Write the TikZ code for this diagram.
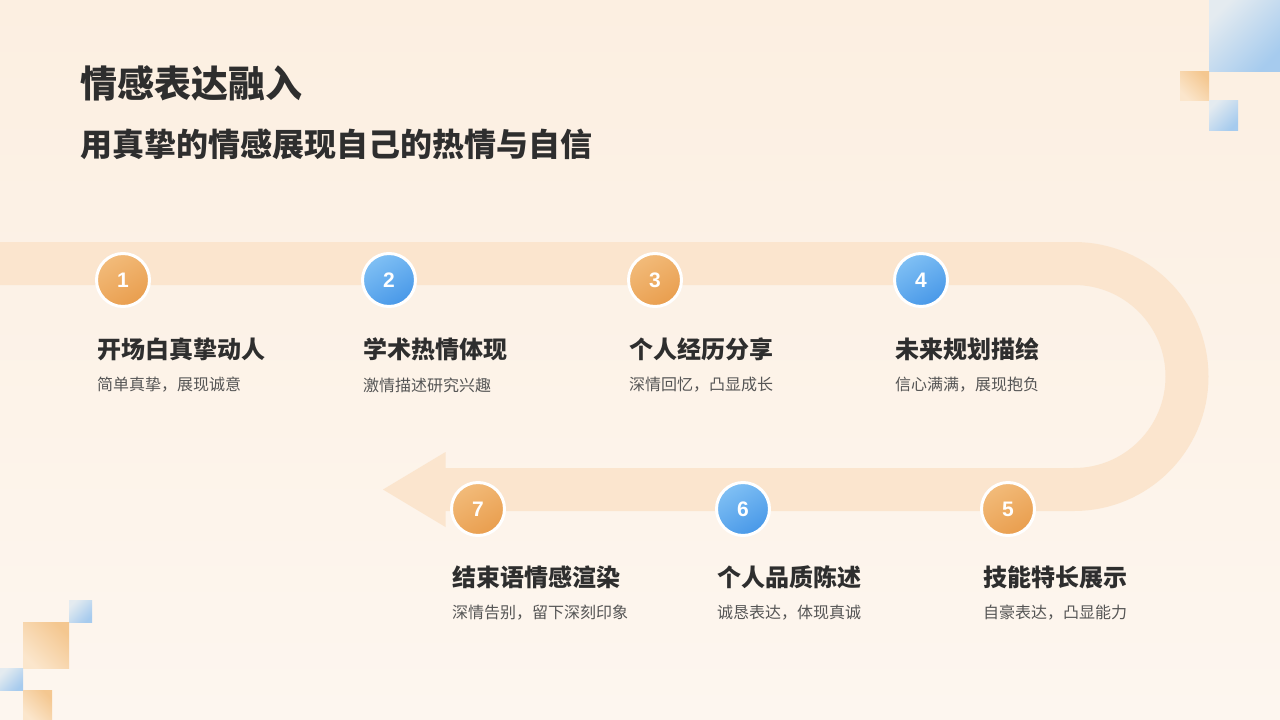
\documentclass[tikz,border=0pt]{standalone}
\usepackage{fontspec}
\setmainfont{Noto Sans CJK SC}
\newfontfamily\cjk{Noto Sans CJK SC}
\newfontfamily\numf{Liberation Sans}
\usetikzlibrary{shapes.geometric}
\definecolor{bgtop}{HTML}{FCEFE1}
\definecolor{bgbot}{HTML}{FDF6EF}
\definecolor{band}{HTML}{FBE5CE}
\definecolor{ttl}{HTML}{2E2E2E}
\definecolor{dsc}{HTML}{555555}
\definecolor{orA}{HTML}{F2BB7A}
\definecolor{orB}{HTML}{E99E4E}
\definecolor{blA}{HTML}{80C0F4}
\definecolor{blB}{HTML}{4898E8}
\definecolor{sqbA}{HTML}{A6CBEE}
\definecolor{sqbB}{HTML}{E4EBF0}
\definecolor{sqoA}{HTML}{F4C790}
\definecolor{sqoB}{HTML}{FBE6CC}
\tikzset{
  numc/.style={circle, minimum size=53pt, inner sep=0pt, draw=white, line width=3pt,
    text=white, font=\numf\bfseries\fontsize{21}{21}\selectfont},
  orc/.style={numc, top color=orA, bottom color=orB, shading angle=30},
  blc/.style={numc, top color=blA, bottom color=blB, shading angle=30},
  itt/.style={anchor=west, inner sep=0pt, text=ttl, font=\cjk\bfseries\fontsize{24}{24}\selectfont},
  itd/.style={anchor=west, inner sep=0pt, text=dsc, font=\cjk\fontsize{16}{16}\selectfont},
  sqb/.style={draw=none, left color=sqbB, right color=sqbA, shading angle=45},
  sqo/.style={draw=none, left color=sqoA, right color=sqoB, shading angle=-45},
}
\begin{document}
\begin{tikzpicture}[x=1pt,y=-1pt]
\useasboundingbox (0,0) rectangle (1280,720);
\shade[top color=bgtop, bottom color=bgbot] (0,0) rectangle (1280,720);
% decor squares
\shade[sqb] (1209,0) rectangle (1280,71);
\shade[sqo] (1180,71) rectangle (1209,100);
\shade[sqb] (1209,100) rectangle (1238,130);
\shade[sqb] (69,600) rectangle (92,622);
\shade[sqo] (23,622) rectangle (69,668);
\shade[sqb] (0,668) rectangle (23,690);
\shade[sqo] (23,690) rectangle (52,720);
% band
\draw[band, line width=43pt] (0,263.5) -- (1074,263.5) arc[start angle=-90, end angle=90, radius=113] -- (445,489.5);
\fill[band] (445.5,452) -- (383,489.5) -- (445.5,527) -- cycle;
% titles
\node[anchor=west, inner sep=0pt, text=ttl, font=\cjk\bfseries\fontsize{37}{37}\selectfont] (t1) at (80,83) {情感表达融入};
\node[anchor=west, inner sep=0pt, text=ttl, font=\cjk\bfseries\fontsize{32}{32}\selectfont] (t2) at (80,144) {用真挚的情感展现自己的热情与自信};
% steps
\node[orc] (c1) at (123,280) {1};
\node[blc] (c2) at (389,280) {2};
\node[orc] (c3) at (655,280) {3};
\node[blc] (c4) at (921,280) {4};
\node[orc] (c7) at (478,509) {7};
\node[blc] (c6) at (743,509) {6};
\node[orc] (c5) at (1008,509) {5};
\node[itt] (h1) at (97,349) {开场白真挚动人};
\node[itd] (d1) at (97,385) {简单真挚，展现诚意};
\node[itt] (h2) at (363,349) {学术热情体现};
\node[itd] (d2) at (363,385) {激情描述研究兴趣};
\node[itt] (h3) at (629,349) {个人经历分享};
\node[itd] (d3) at (629,385) {深情回忆，凸显成长};
\node[itt] (h4) at (895,349) {未来规划描绘};
\node[itd] (d4) at (895,385) {信心满满，展现抱负};
\node[itt] (h7) at (452,577) {结束语情感渲染};
\node[itd] (d7) at (452,613) {深情告别，留下深刻印象};
\node[itt] (h6) at (717,577) {个人品质陈述};
\node[itd] (d6) at (717,613) {诚恳表达，体现真诚};
\node[itt] (h5) at (983,577) {技能特长展示};
\node[itd] (d5) at (983,613) {自豪表达，凸显能力};
\end{tikzpicture}
\end{document}
